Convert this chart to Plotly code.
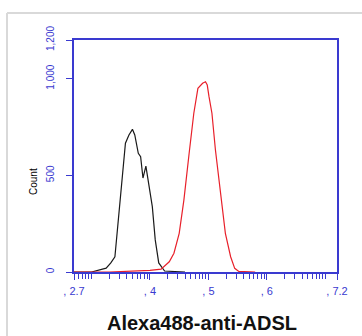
import plotly.graph_objects as go
import numpy as np

# Black (isotype/control) histogram: log10 fluorescence vs count
black_x = [2.70, 3.00, 3.25, 3.33, 3.40, 3.45, 3.52, 3.58, 3.64, 3.70, 3.74, 3.80, 3.84, 3.88, 3.93, 3.98, 4.04, 4.09, 4.15, 4.25, 4.60]
black_y = [0, 0, 20, 47, 79, 234, 459, 666, 709, 738, 709, 614, 596, 486, 548, 441, 338, 166, 47, 5, 0]

# Red (anti-ADSL) histogram
red_x = [2.70, 3.30, 4.00, 4.19, 4.33, 4.41, 4.50, 4.58, 4.67, 4.75, 4.82, 4.90, 4.95, 4.98, 5.01, 5.06, 5.12, 5.21, 5.29, 5.38, 5.45, 5.52, 5.66, 5.80]
red_y = [0, 0, 8, 15, 53, 97, 200, 372, 614, 821, 950, 976, 984, 967, 907, 821, 631, 407, 200, 79, 19, 3, 0, 0]

x_tickvals = [2.7, 4, 5, 6, 7.2]
x_ticktext = [", 2.7", ", 4", ", 5", ", 6", ", 7.2"]
y_tickvals = [0, 500, 1000, 1200]
y_ticktext = ["0", "500", "1,000", "1,200"]

minor_vals = []
for d in range(2, 8):
    for k in range(1, 10):
        v = d + np.log10(k)
        if 2.7 < v < 7.2 and v not in (4, 5, 6):
            minor_vals.append(v)

blue = "#3a3ad0"

fig = go.Figure()
fig.add_trace(go.Scatter(x=black_x, y=black_y, mode="lines",
                         line=dict(color="#1a1a1a", width=1.2), showlegend=False))
fig.add_trace(go.Scatter(x=red_x, y=red_y, mode="lines",
                         line=dict(color="#e8202a", width=1.2), showlegend=False))

fig.update_layout(
    width=362, height=336,
    margin=dict(l=74, r=25, t=40, b=64),
    plot_bgcolor="white", paper_bgcolor="white",
    font=dict(family="Liberation Sans, Arial, sans-serif"),
    xaxis=dict(range=[2.7, 7.2], showgrid=False, zeroline=False,
               showline=True, linecolor=blue, linewidth=1.5, mirror=True,
               tickmode="array", tickvals=x_tickvals, ticktext=x_ticktext,
               ticks="outside", ticklen=6, tickcolor=blue, tickwidth=1.2,
               tickfont=dict(color=blue, size=11),
               ticklabelstandoff=2,
               minor=dict(tickmode="array", tickvals=minor_vals, ticks="outside",
                          ticklen=5, tickcolor=blue, tickwidth=1)),
    yaxis=dict(range=[0, 1200], showgrid=False, zeroline=False,
               showline=True, linecolor=blue, linewidth=1.5, mirror=True,
               tickmode="array", tickvals=y_tickvals, ticktext=y_ticktext,
               ticks="outside", ticklen=6, tickcolor=blue, tickwidth=1.2,
               tickangle=-90, tickfont=dict(color=blue, size=10),
               ticklabelstandoff=8),
)

fig.add_annotation(text="Count", xref="paper", yref="paper",
                   x=(33 - 74) / 263, y=(272 - 182) / 232, xanchor="center", yanchor="middle",
                   showarrow=False, textangle=-90,
                   font=dict(size=10, color="black"))
fig.add_annotation(text="<b>Alexa488-anti-ADSL</b>", xref="paper", yref="paper",
                   x=(202 - 74) / 263, y=(272 - 323) / 232, xanchor="center", yanchor="middle",
                   showarrow=False, font=dict(size=20, color="#111111"))

# light gray frame lines (top and left)
fig.add_shape(type="line", xref="paper", yref="paper",
              x0=(7 - 74) / 263, x1=(362 - 74) / 263, y0=(272 - 13) / 232, y1=(272 - 13) / 232,
              line=dict(color="#d9d9d9", width=2))
fig.add_shape(type="line", xref="paper", yref="paper",
              x0=(7 - 74) / 263, x1=(7 - 74) / 263, y0=(272 - 13) / 232, y1=(272 - 340) / 232,
              line=dict(color="#d9d9d9", width=2))

fig.write_html("out.html", config={"displayModeBar": False},
               post_script="document.body.style.margin='0';document.body.style.padding='0';")
